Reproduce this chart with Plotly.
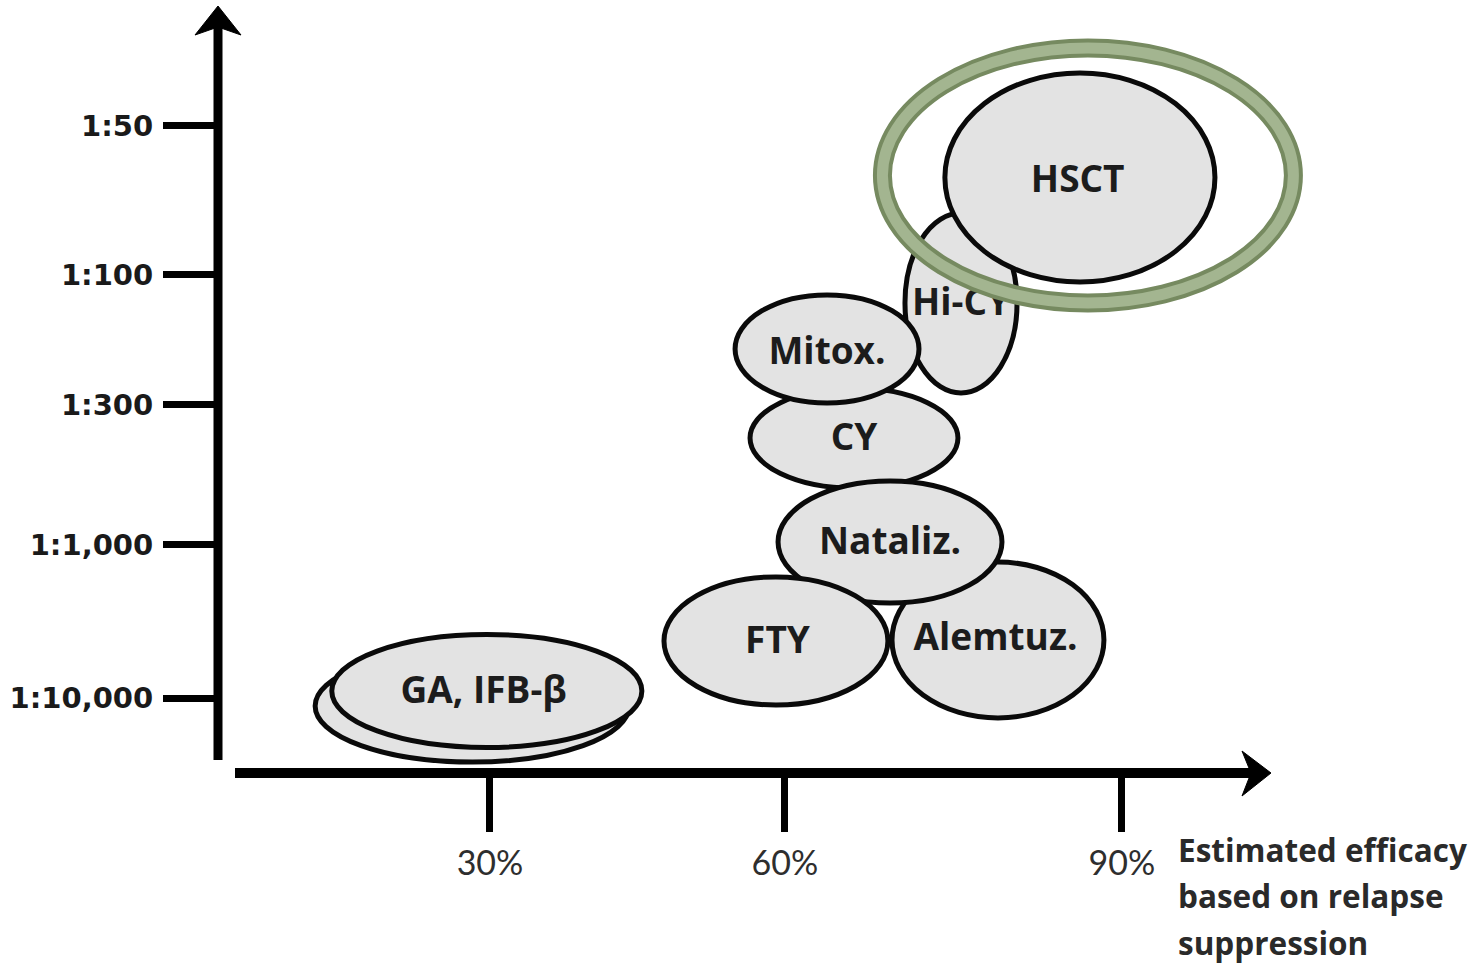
import plotly.graph_objects as go

# ---------------- data ----------------
x_tick_labels = ["30%", "60%", "90%"]
x_tick_vals = [30, 58, 90]
y_tick_labels = ["1:10,000", "1:1,000", "1:300", "1:100", "1:50"]
y_tick_vals = [0.0, 1.07, 2.05, 2.96, 4.0]

# therapies, listed back to front (first entry = second GA/IFB-beta oval)
therapy_labels = ["", "GA, IFB-β", "CY", "Alemtuz.", "Nataliz.", "FTY", "Hi-CY", "Mitox.", "HSCT"]
efficacy_center = [28.3, 29.7, 64.56, 78.23, 67.98, 57.15, 74.72, 62.0, 86.01]
risk_center = [-0.056, 0.049, 1.818, 0.406, 1.091, 0.399, 2.762, 2.441, 3.64]
efficacy_spread = [14.9, 14.72, 9.87, 10.06, 10.63, 10.63, 5.32, 8.73, 12.82]
risk_spread = [0.392, 0.395, 0.35, 0.545, 0.427, 0.448, 0.629, 0.378, 0.731]
# where each label text sits
label_efficacy = [28.3, 29.4, 64.56, 78.0, 67.98, 57.3, 74.72, 62.0, 85.8]
label_risk = [-0.056, 0.03, 1.80, 0.40, 1.075, 0.38, 2.74, 2.40, 3.605]

highlight_label = "HSCT"
highlight_center = [86.77, 3.654]
highlight_spread = [19.51, 0.892]

x_axis_title = ["Estimated efficacy", "based on relapse", "suppression"]

# ---------------- figure ----------------
W, H = 1479, 966
fig = go.Figure()

shapes = []
for lab, cx, cy, rx, ry in zip(therapy_labels, efficacy_center, risk_center,
                               efficacy_spread, risk_spread):
    shapes.append(dict(type="circle", xref="x", yref="y",
                       x0=cx - rx, x1=cx + rx, y0=cy - ry, y1=cy + ry,
                       fillcolor="#e3e3e3", line=dict(color="#0a0a0a", width=5),
                       layer="below"))

# labels
lab_x = [c for l, c in zip(therapy_labels, label_efficacy) if l]
lab_y = [c for l, c in zip(therapy_labels, label_risk) if l]
lab_t = [l for l in therapy_labels if l]
fig.add_trace(go.Scatter(x=lab_x, y=lab_y, mode="text", text=lab_t,
                         textposition="middle center",
                         textfont=dict(family="Open Sans", size=37, color="#1c1c1c", weight="bold"),
                         hoverinfo="skip", showlegend=False))

# highlight ring (dark outline + lighter core)
hx, hy = highlight_center
hrx, hry = highlight_spread
for col, wd in [("#768a60", 19), ("#a3b590", 11)]:
    shapes.append(dict(type="circle", xref="x", yref="y",
                       x0=hx - hrx, x1=hx + hrx, y0=hy - hry, y1=hy + hry,
                       fillcolor="rgba(0,0,0,0)", line=dict(color=col, width=wd),
                       layer="above"))

def px(x):
    return x / W

def py(y):
    return 1 - y / H

# axis lines
shapes.append(dict(type="line", xref="paper", yref="paper",
                   x0=px(218), x1=px(218), y0=py(760), y1=py(26),
                   line=dict(color="black", width=9), layer="above"))
shapes.append(dict(type="line", xref="paper", yref="paper",
                   x0=px(235), x1=px(1252), y0=py(773), y1=py(773),
                   line=dict(color="black", width=10), layer="above"))
# arrowheads
shapes.append(dict(type="path", xref="paper", yref="paper",
                   path=f"M {px(218)},{py(6)} L {px(241)},{py(35)} L {px(218)},{py(27)} L {px(195)},{py(35)} Z",
                   fillcolor="black", line=dict(color="black", width=1), layer="above"))
shapes.append(dict(type="path", xref="paper", yref="paper",
                   path=f"M {px(1271)},{py(773)} L {px(1242)},{py(751)} L {px(1251)},{py(773)} L {px(1242)},{py(796)} Z",
                   fillcolor="black", line=dict(color="black", width=1), layer="above"))

annotations = []
for i, t in enumerate(x_axis_title):
    annotations.append(dict(text=t, xref="paper", yref="paper",
                            x=px(1176), y=py(849 + 46.5 * i),
                            xanchor="left", yanchor="middle", showarrow=False,
                            font=dict(family="Open Sans", size=31.5, color="#2a2a2a", weight="bold")))

fig.update_layout(
    width=W, height=H,
    margin=dict(l=0, r=0, t=0, b=0),
    paper_bgcolor="white", plot_bgcolor="white",
    showlegend=False,
    shapes=shapes,
    annotations=annotations,
    xaxis=dict(range=[-16.52, 123.9], domain=[0, 1], anchor="free",
               position=(H - 773) / H,
               showline=False, showgrid=False, zeroline=False,
               tickmode="array", tickvals=x_tick_vals, ticktext=x_tick_labels,
               ticks="outside", ticklen=58, tickwidth=7, tickcolor="black",
               tickfont=dict(family="Lato", size=34, color="#2e2e2e"),
               ticklabelstandoff=2, fixedrange=True),
    yaxis=dict(range=[-1.874, 4.881], domain=[0, 1], anchor="free",
               position=218 / W,
               showline=False, showgrid=False, zeroline=False,
               tickmode="array", tickvals=y_tick_vals, ticktext=y_tick_labels,
               ticks="outside", ticklen=55, tickwidth=7, tickcolor="black",
               tickfont=dict(family="DejaVu Sans", size=29, color="#1a1a1a", weight="bold"),
               ticklabelstandoff=4, fixedrange=True),
)

fig.write_html("out.html", config={"displayModeBar": False},
               post_script="document.body.style.margin='0';document.body.style.overflow='hidden';")
